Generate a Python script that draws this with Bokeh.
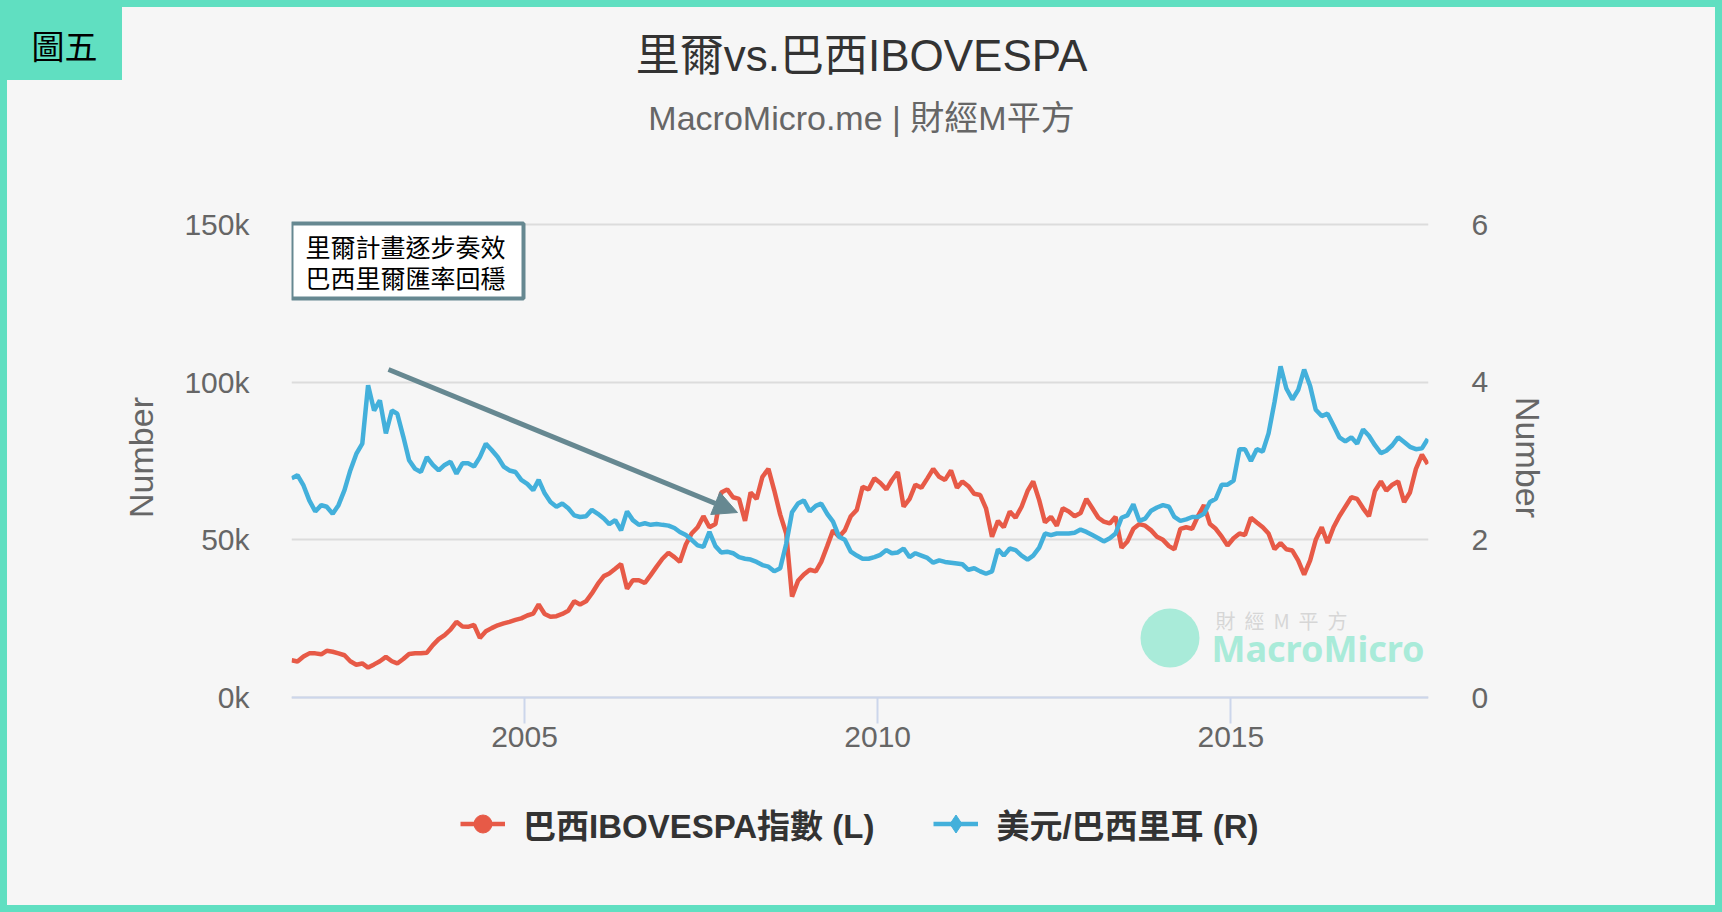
import pandas as pd
from bokeh.plotting import figure
from bokeh.models import (ColumnDataSource, Range1d, LinearAxis, FixedTicker,
                          DatetimeTickFormatter, PrintfTickFormatter, Legend,
                          LegendItem, Label, BoxAnnotation, Arrow, NormalHead)
from bokeh.embed import file_html
from bokeh.resources import INLINE

CJK = "Noto Sans CJK TC"
MIX = "Liberation Sans, Noto Sans CJK TC"
RED = "#e75a47"
BLUE = "#43b0db"
TEAL = "#60dfc1"
GREY = "#666666"
SLATE = "#668891"

# monthly readings, Sep 2001 .. Oct 2017
dates = pd.date_range("2001-09-01", periods=194, freq="MS") + pd.Timedelta(days=14)

# IBOVESPA index, thousands of points (left axis)
ibovespa = [
    11.8, 11.4, 13.0, 14.0,
    14.0, 13.7, 14.8, 14.5, 14.0, 13.4, 11.5, 10.4, 10.8, 9.5, 10.5, 11.5,
    12.9, 11.5, 10.8, 12.2, 13.8, 14.0, 14.0, 14.2, 16.6, 18.5, 19.8, 21.5,
    24.0, 22.5, 22.4, 23.0, 18.9, 21.0, 22.0, 22.9, 23.5, 24.0, 24.6, 25.1,
    26.0, 26.6, 29.5, 26.5, 25.6, 25.8, 26.5, 27.5, 30.5, 29.5, 30.5, 33.0,
    36.0, 38.5, 39.3, 40.8, 42.3, 34.5, 37.2, 37.2, 36.3, 38.8, 41.5, 44.0,
    45.9, 44.5, 43.0, 48.5, 52.0, 54.0, 57.5, 54.0, 55.0, 65.0, 66.0, 63.5,
    63.0, 56.0, 65.0, 63.0, 70.0, 72.5, 65.7, 58.0, 52.0, 32.0, 37.0, 39.0,
    40.5, 40.0, 43.0, 48.0, 53.0, 51.0, 53.0, 57.5, 59.5, 66.8, 66.0, 69.5,
    68.0, 66.0, 68.9, 71.5, 60.5, 63.0, 67.5, 66.5, 69.5, 72.5, 70.0, 69.0,
    72.0, 66.5, 68.5, 67.0, 64.6, 64.2, 60.0, 51.0, 56.0, 54.0, 59.0, 57.0,
    60.5, 65.5, 68.5, 62.6, 55.5, 57.3, 54.5, 60.0, 59.0, 57.5, 58.5, 63.0,
    60.0, 57.0, 55.8, 55.2, 57.3, 47.5, 49.5, 53.5, 55.0, 54.5, 53.0, 51.0,
    50.0, 48.0, 47.0, 53.5, 54.0, 53.5, 57.5, 61.0, 55.0, 53.5, 51.0, 48.2,
    50.5, 52.0, 51.5, 57.0, 55.5, 54.0, 52.0, 47.0, 49.0, 47.0, 46.6, 43.5,
    39.0, 43.5, 50.0, 54.0, 49.0, 54.0, 57.5, 60.5, 63.5, 63.0, 60.0, 57.5,
    65.5, 68.5, 65.6, 67.5, 68.5, 62.0, 65.0, 72.5, 77.0, 74.0,
]

# USD/BRL (right axis)
usd_brl = [
    2.78, 2.82, 2.69, 2.50,
    2.36, 2.44, 2.42, 2.33, 2.44, 2.63, 2.88, 3.09, 3.22, 3.96, 3.64, 3.77,
    3.35, 3.64, 3.60, 3.31, 3.01, 2.90, 2.86, 3.05, 2.95, 2.88, 2.95, 2.99,
    2.84, 2.97, 2.97, 2.93, 3.05, 3.22, 3.14, 3.05, 2.93, 2.88, 2.86, 2.76,
    2.71, 2.63, 2.76, 2.59, 2.48, 2.42, 2.46, 2.40, 2.31, 2.29, 2.30, 2.38,
    2.33, 2.27, 2.20, 2.25, 2.12, 2.36, 2.25, 2.19, 2.21, 2.19, 2.20, 2.19,
    2.18, 2.15, 2.10, 2.06, 2.00, 1.93, 1.91, 2.10, 1.92, 1.84, 1.85, 1.83,
    1.78, 1.76, 1.75, 1.72, 1.68, 1.66, 1.60, 1.64, 1.95, 2.35, 2.46, 2.50,
    2.36, 2.43, 2.46, 2.33, 2.23, 2.04, 2.00, 1.85, 1.80, 1.76, 1.76, 1.78,
    1.81, 1.87, 1.83, 1.84, 1.89, 1.78, 1.83, 1.80, 1.77, 1.71, 1.74, 1.72,
    1.71, 1.70, 1.69, 1.62, 1.64, 1.60, 1.57, 1.60, 1.88, 1.80, 1.89, 1.87,
    1.80, 1.75, 1.80, 1.90, 2.08, 2.06, 2.08, 2.08, 2.08, 2.09, 2.13, 2.10,
    2.06, 2.02, 1.98, 2.02, 2.08, 2.28, 2.31, 2.45, 2.24, 2.27, 2.37, 2.41,
    2.44, 2.42, 2.29, 2.24, 2.26, 2.29, 2.29, 2.33, 2.48, 2.52, 2.70, 2.70,
    2.75, 3.15, 3.15, 3.00, 3.15, 3.12, 3.35, 3.75, 4.20, 3.92, 3.78, 3.90,
    4.16, 3.95, 3.65, 3.57, 3.60, 3.45, 3.30, 3.25, 3.30, 3.22, 3.40, 3.32,
    3.20, 3.10, 3.13, 3.20, 3.30, 3.24, 3.18, 3.15, 3.16, 3.28,
]

left_ticks = [0, 50, 100, 150]
right_ticks = [0, 2, 4, 6]
year_ticks = ["2005-01-01", "2010-01-01", "2015-01-01"]


def ms(s):
    return pd.Timestamp(s).value // 10**6


# page layout in pixels. The frame fills everything right of the value
# labels; the value axis 0..150k sits between PY150 and PY0.
W, H = 1722, 912
FL, FR, FT, FB = 291, 1428, 8, 848
PY0, PY150 = 697, 224
X0, X1 = ms("2001-09-14"), ms("2017-10-19")
K = (PY0 - PY150) / 150.0
TAG_Y, NUMBER_Y = 44, 457   # rows of the corner tag and the axis titles


def cx(px):
    return X0 + (px - FL) / (FR - FL) * (X1 - X0)


def cy(py):
    return (PY0 - py) / K


source = ColumnDataSource(data=dict(date=dates, ibov=ibovespa, brl=usd_brl))

p = figure(width=W, height=H, x_axis_type="datetime",
           x_range=Range1d(X0, X1), y_range=Range1d(cy(FB), cy(FT)),
           output_backend="svg", toolbar_location=None,
           min_border_left=FL, min_border_right=W - FR,
           min_border_top=FT, min_border_bottom=H - FB,
           background_fill_color="#f6f6f6", border_fill_color=None,
           outline_line_color=None)
p.extra_y_ranges = {"brl": Range1d(cy(FB) / 25, cy(FT) / 25),
                    "px": Range1d(FB, FT)}
# page background, corner tag block and teal frame around the picture
p.styles = {
    "background": "linear-gradient(%s, %s) 0 0 / 122px 80px no-repeat, #f6f6f6"
                  % (TEAL, TEAL),
    "box-shadow": "inset 0 0 0 7px " + TEAL,
}


def bare(ax):
    ax.axis_line_color = None
    ax.major_tick_line_color = None
    ax.major_tick_out = 0
    ax.major_tick_in = 0
    ax.minor_tick_line_color = None


# value axes
yl = p.yaxis[0]
yl.ticker = FixedTicker(ticks=left_ticks)
yl.formatter = PrintfTickFormatter(format="%dk")
yr = LinearAxis(y_range_name="brl", ticker=FixedTicker(ticks=right_ticks))
p.add_layout(yr, "right")
for ax in (yl, yr):
    bare(ax)
    ax.major_label_text_font = "Liberation Sans"
    ax.major_label_text_font_size = "30px"
    ax.major_label_text_color = GREY
yl.major_label_standoff = 42
yr.major_label_standoff = 43

# axis titles "Number" and the corner tag, set as labels on outer axes
num_l = LinearAxis(y_range_name="px", ticker=FixedTicker(ticks=[NUMBER_Y]),
                   major_label_overrides={NUMBER_Y: "Number"},
                   major_label_orientation="parallel", major_label_standoff=22)
num_r = LinearAxis(y_range_name="px", ticker=FixedTicker(ticks=[NUMBER_Y]),
                   major_label_overrides={NUMBER_Y: "Number"},
                   major_label_orientation="parallel", major_label_standoff=17)
for ax in (num_l, num_r):
    bare(ax)
    ax.major_label_text_font = "Liberation Sans"
    ax.major_label_text_font_size = "34px"
    ax.major_label_text_color = GREY
p.add_layout(num_l, "left")
p.add_layout(num_r, "right")

tag = LinearAxis(y_range_name="px", ticker=FixedTicker(ticks=[TAG_Y]),
                 major_label_overrides={TAG_Y: "圖五"}, major_label_standoff=21)
bare(tag)
tag.major_label_text_font = CJK
tag.major_label_text_font_size = "33px"
tag.major_label_text_color = "black"
p.add_layout(tag, "left")

xa = p.xaxis[0]
xa.fixed_location = 0
xa.ticker = FixedTicker(ticks=[ms(t) for t in year_ticks])
xa.formatter = DatetimeTickFormatter(years="%Y", months="%Y", days="%Y",
                                     hours="%Y", minutes="%Y")
xa.axis_line_color = "#ccd6eb"
xa.axis_line_width = 2
xa.major_tick_line_color = "#ccd6eb"
xa.major_tick_line_width = 2
xa.major_tick_in = 0
xa.major_tick_out = 26
xa.minor_tick_line_color = None
xa.major_label_text_font = "Liberation Sans"
xa.major_label_text_font_size = "30px"
xa.major_label_text_color = GREY
xa.major_label_standoff = 3

p.xgrid.visible = False
p.ygrid.ticker = FixedTicker(ticks=left_ticks)
p.ygrid.grid_line_color = "#dcdcdc"
p.ygrid.grid_line_width = 2

red = p.line("date", "ibov", source=source, color=RED, line_width=4.5)
blue = p.line("date", "brl", source=source, color=BLUE, line_width=4.5,
              y_range_name="brl")
# markers only show in the legend (legend marker size follows the glyph box)
red_m = p.scatter("date", "ibov", source=source, marker="circle", size=0,
                  color=RED)
blue_m = p.scatter("date", "brl", source=source, marker="diamond", size=0,
                   color=BLUE, y_range_name="brl")

legend = Legend(items=[
    LegendItem(label="巴西IBOVESPA指數 (L)", renderers=[red, red_m]),
    LegendItem(label="美元/巴西里耳 (R)", renderers=[blue, blue_m]),
], orientation="horizontal", location=(169, -3),
    glyph_width=45, glyph_height=55, label_standoff=18, spacing=59,
    padding=0, margin=0, background_fill_alpha=0, border_line_color=None,
    label_text_font=MIX, label_text_font_size="33px",
    label_text_font_style="bold", label_text_color="#333333")
p.add_layout(legend)

# title and subtitle
p.add_layout(Label(x=cx(861), y=cy(55), text="里爾vs.巴西IBOVESPA",
                   text_align="center", text_baseline="middle", text_font=MIX,
                   text_font_size="44px", text_color="#333333"))
p.add_layout(Label(x=cx(861), y=cy(117), text="MacroMicro.me | 財經M平方",
                   text_align="center", text_baseline="middle", text_font=MIX,
                   text_font_size="34px", text_color=GREY))

# note box and arrow
p.add_layout(BoxAnnotation(left=cx(291), right=cx(523), top=cy(223),
                           bottom=cy(298), fill_color="white", fill_alpha=1,
                           line_color=SLATE, line_alpha=1, line_width=4))
p.add_layout(Label(x=cx(305), y=cy(245), text="里爾計畫逐步奏效",
                   text_baseline="middle", text_font=CJK,
                   text_font_size="25px", text_color="black"))
p.add_layout(Label(x=cx(305), y=cy(276), text="巴西里爾匯率回穩",
                   text_baseline="middle", text_font=CJK,
                   text_font_size="25px", text_color="black"))
p.add_layout(Arrow(x_start=cx(388), y_start=cy(369),
                   x_end=cx(737), y_end=cy(512),
                   line_color=SLATE, line_width=5,
                   end=NormalHead(size=24, fill_color=SLATE,
                                  line_color=SLATE)))

# watermark (non-breaking spaces keep the wide letter spacing in svg)
p.add_layout(BoxAnnotation(left=cx(1140), right=cx(1199), top=cy(608),
                           bottom=cy(667), border_radius=30,
                           fill_color="#a9ebd9", fill_alpha=1, line_color=None))
p.add_layout(Label(x=cx(1215), y=cy(620),
                   text="\u00a0\u00a0".join(["財", "經", "M", "平", "方"]),
                   text_baseline="middle", text_font=CJK,
                   text_font_size="20px", text_color="#d6d6d6"))
p.add_layout(Label(x=cx(1211), y=cy(648), text="MacroMicro",
                   text_baseline="middle", text_font="Noto Sans",
                   text_font_size="36px", text_font_style="bold",
                   text_color="#a9ebd9"))

open("out.html", "w").write(file_html(p, INLINE))
